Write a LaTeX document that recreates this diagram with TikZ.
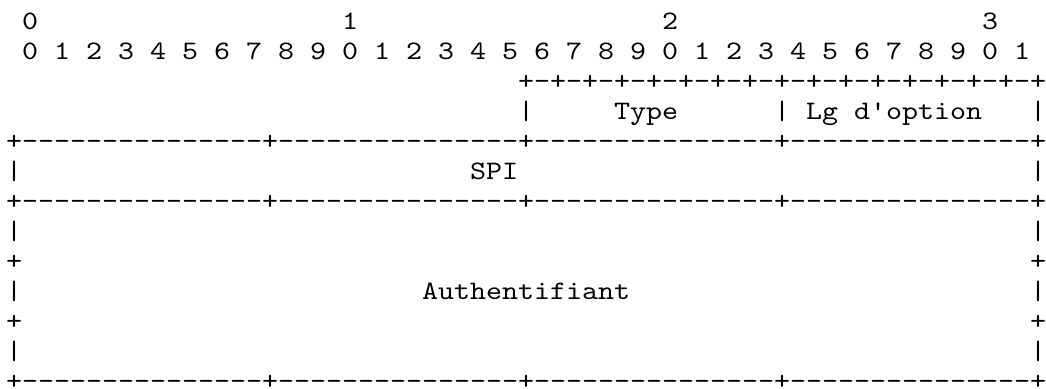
\documentclass[tikz,border=0pt]{standalone}
\usepackage{fontspec}
% typewriter face widened so that one character is 16bp wide
\setmonofont{lmmono10-regular.otf}[FakeStretch=1.1429]
\begin{document}
% Packet layout drawn as fixed-pitch text: one column = 16bp, one row = 30bp
\begin{tikzpicture}[x=1bp,y=1bp,
  txt/.style={anchor=base west, inner sep=0pt, outer sep=0pt,
    font=\ttfamily\fontsize{26.67bp}{30bp}\selectfont}]
\useasboundingbox (0,0) rectangle (1046,388);
\def\rule{+---------------+---------------+---------------+---------------+}
% bit ruler
\node[txt] (t0) at (22,359) {0};
\node[txt] (t1) at (342,359) {1};
\node[txt] (t2) at (662,359) {2};
\node[txt] (t3) at (982,359) {3};
\node[txt] (bits) at (22,329) {0 1 2 3 4 5 6 7 8 9 0 1 2 3 4 5 6 7 8 9 0 1 2 3 4 5 6 7 8 9 0 1};
% first word: Type / option length
\node[txt] (w1top) at (518,299) {+-+-+-+-+-+-+-+-+-+-+-+-+-+-+-+-+};
\node[txt] (w1a) at (518,269) {|};
\node[txt] (type) at (614,269) {Type};
\node[txt] (w1b) at (774,269) {|};
\node[txt] (lg) at (806,269) {Lg d'option};
\node[txt] (w1c) at (1030,269) {|};
\node[txt] (r1) at (6,239) {\rule};
% SPI
\node[txt] (s1) at (6,209) {|};
\node[txt] (spi) at (470,209) {SPI};
\node[txt] (s2) at (1030,209) {|};
\node[txt] (r2) at (6,179) {\rule};
% authenticator
\node[txt] (a1l) at (6,149) {|};
\node[txt] (a1r) at (1030,149) {|};
\node[txt] (a2l) at (6,119) {+};
\node[txt] (a2r) at (1030,119) {+};
\node[txt] (a3l) at (6,89) {|};
\node[txt] (auth) at (422,89) {Authentifiant};
\node[txt] (a3r) at (1030,89) {|};
\node[txt] (a4l) at (6,59) {+};
\node[txt] (a4r) at (1030,59) {+};
\node[txt] (a5l) at (6,29) {|};
\node[txt] (a5r) at (1030,29) {|};
\node[txt] (r3) at (6,-1) {\rule};
\end{tikzpicture}
\end{document}
